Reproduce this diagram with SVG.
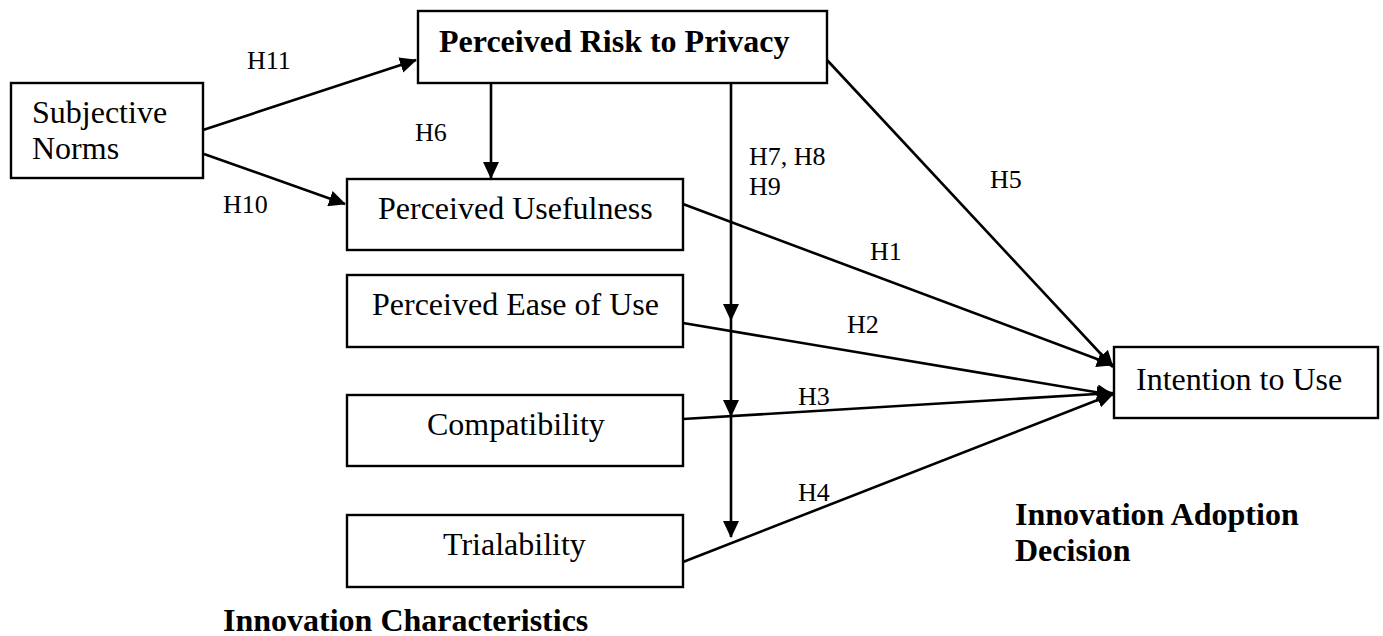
<svg xmlns="http://www.w3.org/2000/svg" width="1383" height="636" viewBox="0 0 1383 636">
<style>
.box{fill:#fff;stroke:#000;stroke-width:2.4}
.t{font-family:"Liberation Serif","Times New Roman",serif;font-size:32px;fill:#000}
.b{font-weight:bold}
.lbl{font-family:"Liberation Serif","Times New Roman",serif;font-size:26px;fill:#000}
.c{fill:none;stroke:#000;stroke-width:2.6}
</style>
<defs>
<marker id="ah" markerUnits="userSpaceOnUse" markerWidth="18" markerHeight="16" refX="16" refY="8" orient="auto">
<path d="M0,0 L17,8 L0,16 z" fill="#000"/>
</marker>
</defs>
<g id="connectors">
<line class="c" x1="203" y1="130" x2="416" y2="60" marker-end="url(#ah)"/>
<line class="c" x1="204" y1="154" x2="345" y2="204" marker-end="url(#ah)"/>
<line class="c" x1="491" y1="83" x2="491" y2="178" marker-end="url(#ah)"/>
<path class="c" d="M731,83 V320 V416 V537" marker-mid="url(#ah)" marker-end="url(#ah)"/>
<line class="c" x1="827" y1="60" x2="1113" y2="367" marker-end="url(#ah)"/>
<line class="c" x1="683" y1="204" x2="1113" y2="365" marker-end="url(#ah)"/>
<line class="c" x1="683" y1="323" x2="1113" y2="395" marker-end="url(#ah)"/>
<line class="c" x1="683" y1="419" x2="1113" y2="393" marker-end="url(#ah)"/>
<line class="c" x1="683" y1="562" x2="1113" y2="394" marker-end="url(#ah)"/>
</g>
<g id="labels">
<text class="lbl" x="247" y="69">H11</text>
<text class="lbl" x="415" y="141">H6</text>
<text class="lbl" x="223" y="213">H10</text>
<text class="lbl" x="749" y="165">H7, H8</text>
<text class="lbl" x="749" y="195">H9</text>
<text class="lbl" x="990" y="188">H5</text>
<text class="lbl" x="870" y="260">H1</text>
<text class="lbl" x="847" y="333">H2</text>
<text class="lbl" x="798" y="405">H3</text>
<text class="lbl" x="798" y="501">H4</text>
</g>
<g id="subjective-norms">
<rect class="box" x="11" y="83" width="192" height="95"/>
<text class="t" x="32" y="123">Subjective</text>
<text class="t" x="32" y="159">Norms</text>
</g>
<g id="perceived-risk">
<rect class="box" x="418" y="11" width="409" height="72"/>
<text class="t b" x="439" y="52">Perceived Risk to Privacy</text>
</g>
<g id="perceived-usefulness">
<rect class="box" x="347" y="179" width="336" height="71"/>
<text class="t" x="378" y="219">Perceived Usefulness</text>
</g>
<g id="perceived-ease">
<rect class="box" x="347" y="275" width="336" height="72"/>
<text class="t" x="372" y="315">Perceived Ease of Use</text>
</g>
<g id="compatibility">
<rect class="box" x="347" y="395" width="336" height="71"/>
<text class="t" x="427" y="435">Compatibility</text>
</g>
<g id="trialability">
<rect class="box" x="347" y="515" width="336" height="72"/>
<text class="t" x="443" y="555">Trialability</text>
</g>
<g id="intention">
<rect class="box" x="1114" y="347" width="264" height="71"/>
<text class="t" x="1136" y="390">Intention to Use</text>
</g>
<g id="titles">
<text class="t b" x="223" y="631">Innovation Characteristics</text>
<text class="t b" x="1015" y="525">Innovation Adoption</text>
<text class="t b" x="1015" y="561">Decision</text>
</g>
</svg>
